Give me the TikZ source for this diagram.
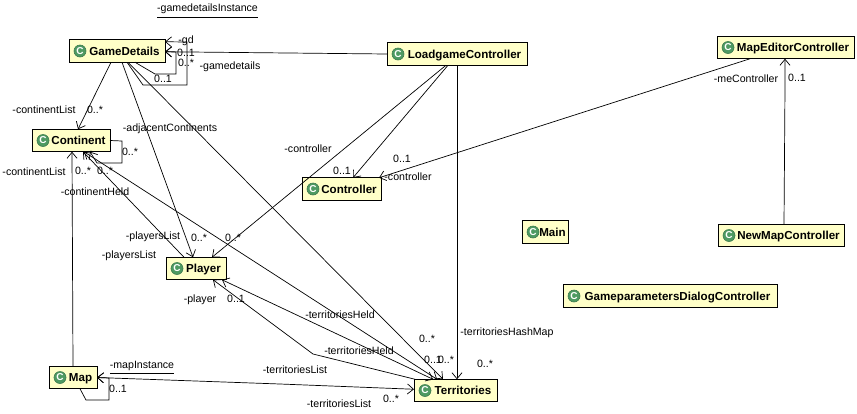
\documentclass[tikz,border=0pt]{standalone}
\usepackage{fontspec}
\setmainfont{Liberation Sans}
\usetikzlibrary{arrows.meta}
\definecolor{boxfill}{HTML}{FFFFC8}
\definecolor{iconfill}{HTML}{4E9A62}
\tikzset{
    iconc/.style={circle, fill=iconfill, draw=iconfill!80!black, line width=0.6pt, text=white,
        inner sep=0pt, minimum size=12pt, font=\fontsize{10}{10}\selectfont\bfseries},
    classbox/.style={draw=black, line width=0.9pt, fill=boxfill, outer sep=0pt, inner sep=0pt,
        minimum height=22.5pt, font=\fontsize{11.6}{14}\selectfont\bfseries,
        text depth=0pt, execute at begin node={\hspace{15pt}},
        append after command={
            node[iconc, execute at begin node={}, text depth=] at ([xshift=11pt]\tikzlastnode.west) {C}
        }},
    lab/.style={inner sep=0pt, outer sep=0pt, font=\fontsize{10.6}{12}\selectfont},
    assoc/.style={line width=0.7pt, -{Straight Barb[length=6pt,width=10pt]}},
    biassoc/.style={line width=0.7pt, {Straight Barb[length=6pt,width=10pt]}-{Straight Barb[length=6pt,width=10pt]}}
}
\begin{document}
\begin{tikzpicture}[x=1pt, y=-1pt]
    \useasboundingbox (0,0) rectangle (857,413);
    % Classes
    \node[classbox, minimum width=96pt]  (GameDetails) at (117,51) {GameDetails};
    \node[classbox, minimum width=78pt]  (Continent)   at (71,140.5) {Continent};
    \node[classbox, minimum width=60pt]  (Player)      at (196,268.5) {Player};
    \node[classbox, minimum width=48pt]  (Map)         at (73,377.5) {Map};
    \node[classbox, minimum width=83pt]  (Territories) at (455.5,390.5) {Territories};
    \node[classbox, minimum width=140pt] (Loadgame)    at (457,54) {LoadgameController};
    \node[classbox, minimum width=79pt]  (Controller)  at (341.5,189) {Controller};
    \node[classbox, minimum width=137pt] (MapEditor)   at (785.5,47.5) {MapEditorController};
    \node[classbox, minimum width=126pt] (NewMap)      at (781,235.5) {NewMapController};
    \node[classbox, minimum width=46pt]  (Main)        at (545,232) {Main};
    \node[classbox, minimum width=214pt] (GameParams)  at (670,296) {GameparametersDialogController};
    % GameDetails links
    \draw[assoc] ([xshift=66]GameDetails.south west) -- (155,74) -- (176,74) -- (176,52)
         -- ([yshift=-12]GameDetails.north east);
    \draw[assoc] ([xshift=58]GameDetails.south west) -- (143,85) -- (187,85) -- (187,42)
         -- ([yshift=-2]GameDetails.north east);
    \draw[assoc] ([xshift=42]GameDetails.south west) -- ([xshift=46]Continent.north west);
    \draw[assoc] ([xshift=53]GameDetails.south west) -- ([xshift=27]Player.north west);
    \draw[assoc] ([xshift=59]GameDetails.south west) -- ([xshift=29]Territories.north west);
    % LoadgameController links
    \draw[assoc] (Loadgame.west) -- ([yshift=-12]GameDetails.north east);
    \draw[assoc] ([xshift=61]Loadgame.south west) -- ([xshift=51]Controller.north west);
    \draw[assoc] ([xshift=59]Loadgame.south west) -- ([xshift=46]Player.north west);
    \draw[assoc] ([xshift=70]Loadgame.south west) -- ([xshift=43]Territories.north west);
    % Map editor links
    \draw[assoc] ([xshift=33]MapEditor.south west) -- ([xshift=-2]Controller.north east);
    \draw[assoc] ([xshift=66]NewMap.north west) -- (785,87) -- ([xshift=68]MapEditor.south west);
    % Continent links
    \draw[assoc] (Continent.east) -- (122,141) -- (122,163) -- (97,163)
         -- ([xshift=58]Continent.south west);
    \draw[assoc] ([xshift=24]Map.north west) -- ([xshift=40]Continent.south west);
    \draw[assoc] ([xshift=18]Player.north west) -- ([xshift=51]Continent.south west);
    \draw[biassoc] ([xshift=52]Continent.south west) -- ([xshift=23]Territories.north west);
    % Player and Map links
    \draw[biassoc] ([xshift=56]Player.south west) -- ([xshift=19]Territories.north west);
    \draw[assoc] ([xshift=1]Territories.north west) -- (313,354) -- ([xshift=47]Player.south west);
    \draw[biassoc] (Map.east) -- (280,384) -- ([yshift=-10]Territories.north west);
    \draw[assoc] ([xshift=31]Map.south west) -- (86,400) -- (109,400) -- (109,378) -- (Map.east);
    % Labels
    \node[lab] (instGame) at (207.5,9) {-gamedetailsInstance};
    \draw[line width=0.8pt] ([yshift=-3]instGame.south west) -- ([yshift=-3]instGame.south east);
    \node[lab] (instMap) at (142,366) {-mapInstance};
    \draw[line width=0.8pt] ([yshift=-3]instMap.south west) -- ([yshift=-3]instMap.south east);
    \node[lab] (labGd)      at (186,41)  {-gd};
    \node[lab] (mulGdA)     at (186,53)  {0..1};
    \node[lab] (mulGdB)     at (186,63)  {0..*};
    \node[lab] (labGame)    at (230,67)  {-gamedetails};
    \node[lab] (mulGdC)     at (163,79)  {0..1};
    \node[lab] (labContA)   at (44,110)  {-continentList};
    \node[lab] (mulContA)   at (95,110)  {0..*};
    \node[lab] (labAdj)     at (170,129) {-adjacentContinents};
    \node[lab] (mulAdj)     at (130,152) {0..*};
    \node[lab] (labContB)   at (34,172)  {-continentList};
    \node[lab] (mulContB)   at (83,171)  {0..*};
    \node[lab] (mulContC)   at (105,171) {0..*};
    \node[lab] (labHeld)    at (95,192)  {-continentHeld};
    \node[lab] (labPlayA)   at (153,237) {-playersList};
    \node[lab] (mulPlayA)   at (199,238) {0..*};
    \node[lab] (mulPlayB)   at (233,238) {0..*};
    \node[lab] (labPlayB)   at (129,256) {-playersList};
    \node[lab] (labPlayer)  at (200,300) {-player};
    \node[lab] (mulPlayer)  at (236,299) {0..1};
    \node[lab] (mulMap)     at (118,389) {0..1};
    \node[lab] (labTerrA)   at (295,370) {-territoriesList};
    \node[lab] (labTerrB)   at (339,404) {-territoriesList};
    \node[lab] (labHeldA)   at (340,315) {-territoriesHeld};
    \node[lab] (labHeldB)   at (359,351) {-territoriesHeld};
    \node[lab] (mulTerrA)   at (427,339) {0..*};
    \node[lab] (mulTerrB)   at (433,360) {0..1};
    \node[lab] (mulTerrC)   at (446,360) {0..*};
    \node[lab] (mulTerrD)   at (485,364) {0..*};
    \node[lab] (mulTerrE)   at (391,399) {0..*};
    \node[lab] (labHash)    at (507,333) {-territoriesHashMap};
    \node[lab] (labCtrlA)   at (308,149) {-controller};
    \node[lab] (mulCtrlA)   at (342,171) {0..1};
    \node[lab] (mulCtrlB)   at (402,159) {0..1};
    \node[lab] (labCtrlB)   at (408,177) {-controller};
    \node[lab] (labMeCtrl)  at (746,79)  {-meController};
    \node[lab] (mulMeCtrl)  at (797,78)  {0..1};
\end{tikzpicture}
\end{document}
